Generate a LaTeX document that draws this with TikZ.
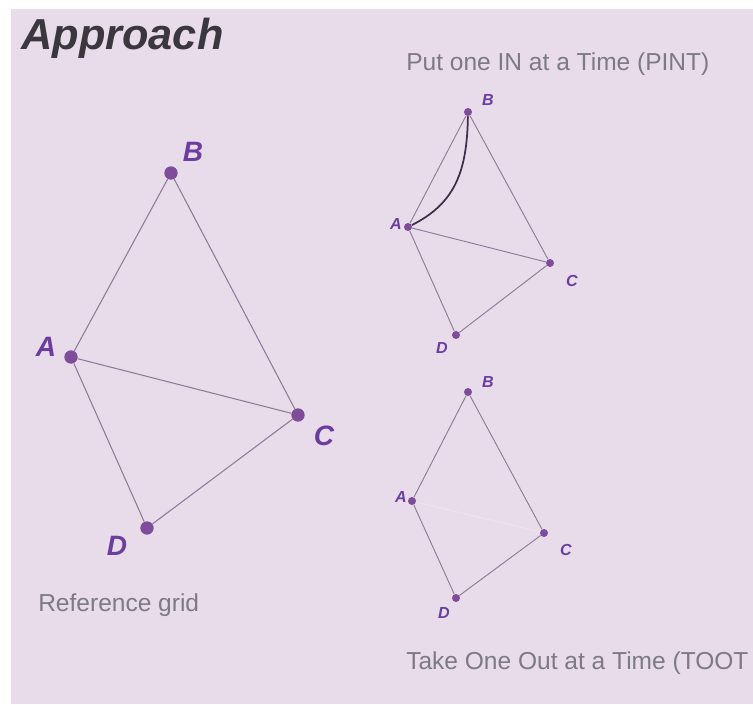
\documentclass[tikz,border=0pt]{standalone}
\usepackage{fontspec}
\setmainfont{Liberation Sans}

\definecolor{bgpurple}{HTML}{E8DCEB}
\definecolor{linepurple}{HTML}{8E7B99}
\definecolor{dotpurple}{HTML}{7E4C99}
\definecolor{labelpurple}{HTML}{6A3D9E}
\definecolor{captiongray}{HTML}{7C7A82}
\definecolor{titlegray}{HTML}{3A383E}
\definecolor{curvedark}{HTML}{3D2F48}

\begin{document}
\begin{tikzpicture}[x=0.75pt,y=-0.75pt,
    caption/.style={text=captiongray,font=\fontsize{18.4}{20}\selectfont,inner sep=0pt,anchor=base west},
    biglabel/.style={text=labelpurple,font=\fontsize{21}{21}\selectfont\bfseries\itshape,inner sep=0pt},
    smalllabel/.style={text=labelpurple,font=\fontsize{12}{12}\selectfont\bfseries\itshape,inner sep=0pt}]
\useasboundingbox (0,0) rectangle (753,705);
\fill[white] (0,0) rectangle (753,705);
\fill[bgpurple] (11,9) rectangle (753,704);

\node[text=titlegray,font=\fontsize{32.5}{33}\selectfont\bfseries\itshape,inner sep=0pt,anchor=base west] (title) at (21,50) {Approach};
\node[caption] (pintcap) at (406,71) {Put one IN at a Time (PINT)};
\node[caption] (refcap) at (38,611) {Reference grid};
\node[caption] (tootcap) at (406,669) {Take One Out at a Time (TOOT};

% reference grid
\begin{scope}[every node/.style={circle,fill=dotpurple,inner sep=0pt,minimum size=10pt}]
    \node (A) at (71,357) {};
    \node (B) at (171,173) {};
    \node (C) at (298,415) {};
    \node (D) at (147,528) {};
\end{scope}
\begin{scope}[every edge/.style={draw=linepurple,line width=0.8pt}]
    \path (A) edge (B);
    \path (B) edge (C);
    \path (A) edge (C);
    \path (A) edge (D);
    \path (D) edge (C);
\end{scope}
\node[biglabel] (lA) at (46,347) {A};
\node[biglabel] (lB) at (193,152) {B};
\node[biglabel] (lC) at (324,436) {C};
\node[biglabel] (lD) at (117,546) {D};

% PINT
\begin{scope}[every node/.style={circle,fill=dotpurple,inner sep=0pt,minimum size=6pt}]
    \node (pA) at (408,227) {};
    \node (pB) at (468,112) {};
    \node (pC) at (550,263) {};
    \node (pD) at (456,335) {};
\end{scope}
\begin{scope}[every edge/.style={draw=linepurple,line width=0.7pt}]
    \path (pA) edge (pB);
    \path (pB) edge (pC);
    \path (pA) edge (pC);
    \path (pA) edge (pD);
    \path (pD) edge (pC);
\end{scope}
\draw[curvedark,line width=1.3pt] (pA) .. controls (456,203) and (467,170) .. (pB);
\node[smalllabel] (plA) at (396,224) {A};
\node[smalllabel] (plB) at (488,100) {B};
\node[smalllabel] (plC) at (572,281) {C};
\node[smalllabel] (plD) at (442,348) {D};

% TOOT
\begin{scope}[every node/.style={circle,fill=dotpurple,inner sep=0pt,minimum size=6pt}]
    \node (tA) at (412,501) {};
    \node (tB) at (468,392) {};
    \node (tC) at (544,533) {};
    \node (tD) at (456,598) {};
\end{scope}
\begin{scope}[every edge/.style={draw=linepurple,line width=0.7pt}]
    \path (tA) edge (tB);
    \path (tB) edge (tC);
    \path (tA) edge (tD);
    \path (tD) edge (tC);
\end{scope}
\draw[white,opacity=0.25,line width=0.7pt] (tA) -- (tC);
\node[smalllabel] (tlA) at (401,497) {A};
\node[smalllabel] (tlB) at (488,382) {B};
\node[smalllabel] (tlC) at (566,550) {C};
\node[smalllabel] (tlD) at (444,613) {D};
\end{tikzpicture}
\end{document}
